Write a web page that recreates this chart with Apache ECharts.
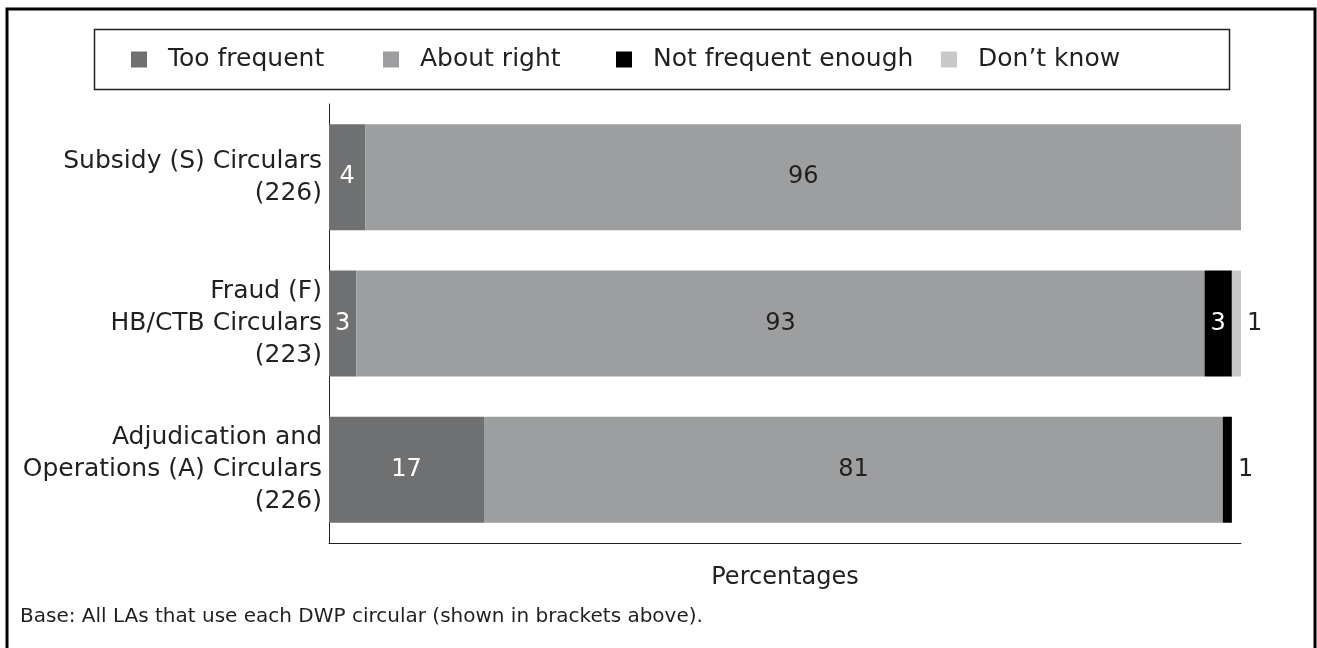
<!DOCTYPE html>
<html>
<head>
<meta charset="utf-8">
<script src="https://cdn.jsdelivr.net/npm/echarts@6/dist/echarts.min.js"></script>
<style>
  html, body { margin: 0; padding: 0; background: #fff; }
  #chart { width: 1317px; height: 648px; }
</style>
</head>
<body>
<div id="chart"></div>
<script>
const categories = [
  'Subsidy (S) Circulars\n(226)',
  'Fraud (F)\nHB/CTB Circulars\n(223)',
  'Adjudication and\nOperations (A) Circulars\n(226)'
]
const seriesNames = ['Too frequent', 'About right', 'Not frequent enough', 'Don\u2019t know']
const tooFrequent = [4, 3, 17]
const aboutRight = [96, 93, 81]
const notFrequentEnough = [0, 3, 1]
const dontKnow = [0, 1, 0]

const colors = ['#6f7072', '#9d9ea0', '#000000', '#c7c8ca']
const labelColors = ['#ffffff', '#231f20', '#ffffff', '#231f20']
const textColor = '#231f20'
const font = 'DejaVu Sans'

function makeSeries(idx, values) {
  return {
    name: seriesNames[idx],
    type: 'bar',
    stack: 'total',
    barWidth: 106,
    itemStyle: { color: colors[idx] },
    label: {
      show: true,
      position: 'inside',
      color: labelColors[idx],
      fontFamily: font,
      fontSize: 24,
      formatter: p => (p.value > 0 ? p.value : '')
    },
    data: values.map(v => {
      // tiny slices get their number outside the bar
      if (v === 1) {
        return { value: v, label: { position: 'right', distance: 6, color: textColor } }
      }
      return v
    })
  }
}

const legendLefts = [131, 383, 616, 941]

const option = {
  animation: false,
  textStyle: { fontFamily: font },
  legend: seriesNames.map((n, i) => ({
    data: [n],
    left: legendLefts[i],
    top: 47,
    itemWidth: 16,
    itemHeight: 16,
    icon: 'rect',
    selectedMode: false,
    padding: 0,
    textStyle: { fontSize: 25, color: textColor, fontFamily: font, padding: [0, 0, 0, 16] }
  })),
  grid: { left: 329, right: 76, top: 104, bottom: 105, containLabel: false },
  xAxis: {
    type: 'value',
    min: 0,
    max: 100,
    axisLine: { show: true, lineStyle: { color: textColor, width: 1 } },
    axisTick: { show: false },
    axisLabel: { show: false },
    splitLine: { show: false },
    name: 'Percentages',
    nameLocation: 'middle',
    nameGap: 23,
    nameTextStyle: { fontSize: 24, color: textColor, fontFamily: font }
  },
  yAxis: {
    type: 'category',
    inverse: true,
    data: categories,
    axisLine: { show: true, lineStyle: { color: textColor, width: 1 } },
    axisTick: { show: false },
    axisLabel: {
      margin: 7,
      fontSize: 25,
      lineHeight: 32,
      align: 'right',
      color: textColor,
      fontFamily: font
    }
  },
  graphic: [
    {
      type: 'rect',
      shape: { x: 7, y: 9, width: 1308, height: 650 },
      style: { fill: 'none', stroke: '#000', lineWidth: 3 }
    },
    {
      type: 'rect',
      shape: { x: 94.5, y: 29.5, width: 1135, height: 60 },
      style: { fill: 'none', stroke: '#231f20', lineWidth: 1.5 }
    },
    {
      type: 'text',
      left: 20,
      top: 607,
      style: {
        text: 'Base: All LAs that use each DWP circular (shown in brackets above).',
        fontSize: 20,
        fill: textColor,
        fontFamily: font
      }
    }
  ],
  series: [
    makeSeries(0, tooFrequent),
    makeSeries(1, aboutRight),
    makeSeries(2, notFrequentEnough),
    makeSeries(3, dontKnow)
  ]
}

const chart = echarts.init(document.getElementById('chart'))
chart.setOption(option)
</script>
</body>
</html>
